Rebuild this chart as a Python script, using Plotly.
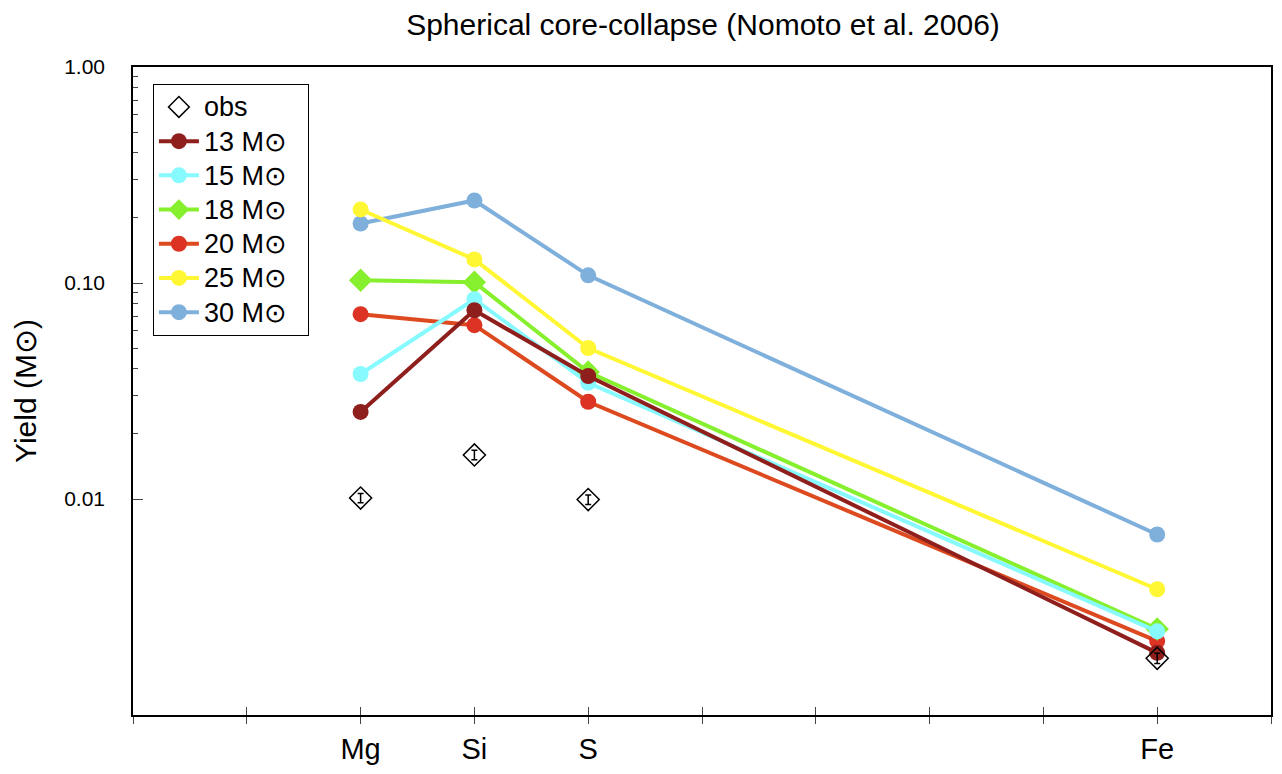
import plotly.graph_objects as go

elements = ["Mg", "Si", "S", "Fe"]
atomic_number = [12, 14, 16, 26]

obs = [0.0101, 0.0160, 0.00994, 0.00183]
obs_err = [0.0005, 0.0008, 0.0005, 0.0001]

yield_13 = [0.0253, 0.0748, 0.0371, 0.00194]
yield_15 = [0.0379, 0.0841, 0.0345, 0.00244]
yield_18 = [0.103, 0.1008, 0.0387, 0.00250]
yield_20 = [0.0717, 0.0638, 0.0282, 0.00220]
yield_25 = [0.219, 0.1286, 0.0500, 0.00382]
yield_30 = [0.1886, 0.241, 0.1085, 0.00685]

x_tick_vals = [8, 10, 12, 14, 16, 18, 20, 22, 24, 26, 28]
x_tick_text = ["", "", "Mg", "Si", "S", "", "", "", "", "Fe", ""]
y_tick_vals = [0.01, 0.1, 1.0]
y_tick_text = ["0.01", "0.10", "1.00"]
y_minor_vals = [0.02, 0.03, 0.04, 0.05, 0.06, 0.07, 0.08, 0.09,
                0.2, 0.3, 0.4, 0.5, 0.6, 0.7, 0.8, 0.9]

FONT = "Liberation Sans, Arial, Helvetica, sans-serif"


def leg(label):
    return '<span style="font-size:27px">' + label + '&nbsp;&nbsp;</span>'


models = [
    ("30 M⊙", yield_30, "#7FB0DC", "#7FB0DC", "circle", 16),
    ("25 M⊙", yield_25, "#FFF733", "#FFF733", "circle", 16),
    ("20 M⊙", yield_20, "#DC3324", "#DD4A1F", "circle", 16),
    ("18 M⊙", yield_18, "#86F02E", "#86F02E", "diamond", 18),
    ("15 M⊙", yield_15, "#86FAFF", "#86FAFF", "circle", 16),
    ("13 M⊙", yield_13, "#8E1F1C", "#8E1F1C", "circle", 16),
]

fig = go.Figure()
for name, vals, mcol, lcol, sym, size in models:
    fig.add_trace(go.Scatter(
        x=atomic_number, y=vals, name=leg(name), mode="lines+markers",
        line=dict(color=lcol, width=4),
        marker=dict(color=mcol, symbol=sym, size=size),
    ))

fig.add_trace(go.Scatter(
    x=atomic_number, y=obs, name=leg("obs"), mode="markers",
    marker=dict(symbol="diamond-open", size=17, color="black",
                line=dict(width=1.5, color="black")),
    error_y=dict(type="data", array=obs_err, visible=True,
                 color="black", thickness=1.5, width=3),
))

# invisible trace for the inward-tick overlay axis
fig.add_trace(go.Scatter(x=[8, 28], y=[0.01, 0.01], xaxis="x2", mode="markers",
                         marker=dict(opacity=0), showlegend=False, hoverinfo="skip"))

# page body has an 8px margin, so the figure is drawn 8px right and down
W, H = 1274, 766

fig.update_layout(
    width=W, height=H,
    paper_bgcolor="white", plot_bgcolor="white",
    margin=dict(l=125, r=9, t=59, b=49),
    font=dict(family=FONT, color="black"),
    title=dict(text="Spherical core-collapse (Nomoto et al. 2006)",
               x=695 / W, xanchor="center", y=1 - 16 / H, yanchor="middle",
               yref="container", font=dict(size=30, family=FONT)),
    showlegend=True,
    legend=dict(x=0.0175, y=0.974, xanchor="left", yanchor="top",
                bgcolor="white", bordercolor="black", borderwidth=1,
                font=dict(size=24, family=FONT), traceorder="reversed",
                itemsizing="trace", itemwidth=40),
    xaxis=dict(range=[8, 28], tickvals=x_tick_vals, ticktext=x_tick_text,
               ticks="outside", ticklen=7, tickwidth=1, tickcolor="#444",
               showline=True, linecolor="black", linewidth=1.5, mirror=True,
               showgrid=False, zeroline=False,
               tickfont=dict(size=29, family=FONT)),
    xaxis2=dict(range=[8, 28], overlaying="x", anchor="y", side="bottom",
                tickvals=x_tick_vals, ticks="inside", ticklen=8, tickwidth=1,
                tickcolor="#444", showticklabels=False, showline=False,
                showgrid=False, zeroline=False),
    yaxis=dict(type="log", range=[-3, 0], tickvals=y_tick_vals,
               ticktext=y_tick_text, ticks="inside", ticklen=10,
               tickwidth=1, tickcolor="#444",
               minor=dict(tickvals=y_minor_vals, ticks="inside", ticklen=5,
                          tickcolor="#444", showgrid=False),
               showline=True, linecolor="black", linewidth=1.5, mirror=True,
               showgrid=False, zeroline=False, ticklabelstandoff=22,
               tickfont=dict(size=21, family=FONT),
               title=dict(text="Yield (M⊙)", font=dict(size=30, family=FONT),
                          standoff=19)),
)

fig.write_html("out.html")
